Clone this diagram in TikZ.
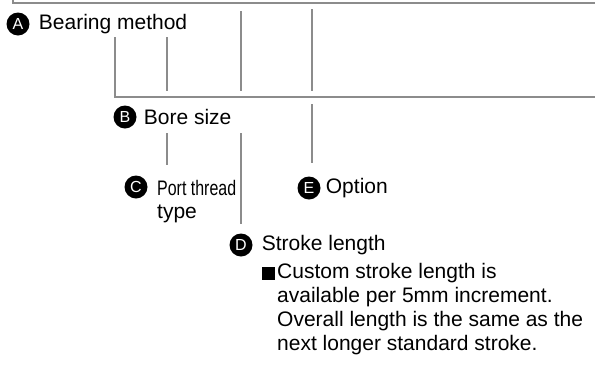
\documentclass[tikz,border=0pt]{standalone}
\usepackage{fontspec}
\setmainfont{Liberation Sans}
\usetikzlibrary{positioning}
\definecolor{linegray}{HTML}{8C8C8C}

\begin{document}
\begin{tikzpicture}[
  x=1pt, y=-1pt,
  font=\fontsize{21}{24}\selectfont,
  badge/.style={circle, fill=black, text=white, inner sep=0pt, minimum size=23pt, font=\fontsize{16}{16}\selectfont},
  lbl/.style={anchor=west, inner sep=0pt, align=left},
  rule/.style={draw=linegray, line width=2.2pt}
]
\useasboundingbox (0,0) rectangle (595,365);
% frame lines
\coordinate (topL) at (13,0);
\coordinate (topR) at (595,3);
\coordinate (midR) at (595,97);
\draw[rule] (topL) |- (topR);
\draw[rule] (115,37) |- (midR);
\draw[rule] (167,37) -- (167,91);
\draw[rule] (241,11) -- (241,91);
\draw[rule] (312,9) -- (312,91);

% labels
\node[badge] (bA) at (18,24) {A};
\node[lbl, right=9pt of bA] (tA) {Bearing method};
\node[badge] (bB) at (125,117) {B};
\node[lbl, right=7pt of bB] (tB) {Bore size};
\node[badge] (bC) at (136,187) {C};
\node[lbl, anchor=base west] (tC) at (157,195) {\scalebox{0.76}[1]{Port thread}};
\node[lbl, anchor=base west] (tC2) at (157,218) {type};
\node[badge] (bE) at (309,188) {E};
\node[lbl, right=5pt of bE] (tE) {Option};
\node[badge] (bD) at (241,245) {D};
\node[lbl, right=9pt of bD] (tD) {Stroke length};
\node[fill=black, inner sep=0pt, minimum size=13pt] (sq) at (268.5,273.5) {};
\node[lbl, anchor=north west] (note) at (277,263) {Custom stroke length is\\available per 5mm increment.\\Overall length is the same as the\\next longer standard stroke.};

% connectors
\coordinate (cB) at (167,133);
\coordinate (cD) at (241,133);
\coordinate (cE) at (312,104);
\draw[rule] (cB) -- (167,165);
\draw[rule] (cD) -- (bD.north |- 0,224);
\draw[rule] (cE) -- (312,163);
\end{tikzpicture}
\end{document}
